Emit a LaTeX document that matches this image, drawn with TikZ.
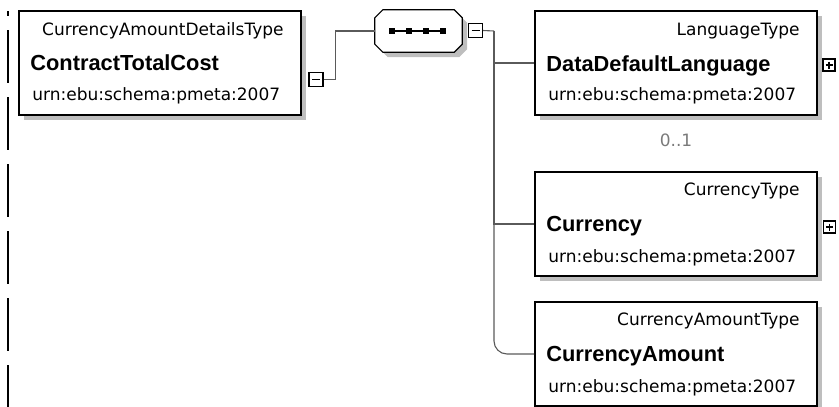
\documentclass[tikz,border=0pt]{standalone}
\usepackage{fontspec}
\setmainfont{DejaVu Sans}
\newfontfamily\namefont{Liberation Sans}
\usepackage{tikz}
\usepackage{xcolor}
\usetikzlibrary{calc,positioning,shadows}
\definecolor{XS_Line}{HTML}{5A5A5A}
\definecolor{XS_Shadow}{HTML}{BEBEBE}
\definecolor{XS_Occurs}{HTML}{7A7A7A}

\tikzset{
  elem/.style={draw=black, line width=1.6pt, fill=white, rectangle,
    minimum width=282pt, minimum height=104pt, inner sep=0pt,
    drop shadow={shadow xshift=5pt, shadow yshift=-5pt, fill=XS_Shadow, opacity=1}},
  toggle/.style={draw=black, line width=1.1pt, fill=white, rectangle,
    minimum size=14pt, inner sep=0pt},
  conn/.style={draw=XS_Line, line width=1.1pt},
  typetxt/.style={inner sep=0pt, font=\fontsize{17}{20}\selectfont},
  nametxt/.style={inner sep=0pt, font=\namefont\bfseries\fontsize{21.8}{24}\selectfont},
  urntxt/.style={inner sep=0pt, font=\fontsize{17}{20}\selectfont},
}

\begin{document}
\begin{tikzpicture}[x=1pt, y=-1pt]
    \useasboundingbox (0,0) rectangle (839,407);

    % Dashed marker on the left
    \draw[line width=2pt, dash pattern=on 53pt off 14pt, dash phase=48pt] (8,11) -- (8,407);

    % Parent element
    \node[elem] (ctc) at (160,63) {};
    \node[typetxt, anchor=base east] (ctc-type) at ($(ctc.north east)+(-18,25)$) {CurrencyAmountDetailsType};
    \node[nametxt, anchor=base west] (ctc-name) at ($(ctc.north west)+(12,60)$) {ContractTotalCost};
    \node[urntxt, anchor=base west] (ctc-urn) at ($(ctc.north west)+(14,90)$) {urn:ebu:schema:pmeta:2007};
    \node[toggle] (ctc-m) at (316,79.5) {};
    \draw[line width=1.3pt] ($(ctc-m.center)+(-4,0)$) -- ($(ctc-m.center)+(4,0)$);

    % Sequence compositor
    \node[minimum width=87pt, minimum height=42pt, inner sep=0pt] (seq) at (418.5,31) {};
    \draw[line width=1.2pt, fill=white,
      drop shadow={shadow xshift=5pt, shadow yshift=-5pt, fill=XS_Shadow, opacity=1}]
      ($(seq.north west)+(8,0)$) -- ($(seq.north east)+(-8,0)$) -- ($(seq.north east)+(0,8)$)
      -- ($(seq.south east)+(0,-8)$) -- ($(seq.south east)+(-8,0)$) -- ($(seq.south west)+(8,0)$)
      -- ($(seq.south west)+(0,-8)$) -- ($(seq.north west)+(0,8)$) -- cycle;
    \draw[line width=1.6pt] (392,31) -- (443,31);
    \foreach \dx in {392,409,426,443}
        \fill (\dx,31) +(-3.3,-3.3) rectangle +(3.3,3.3);
    \node[toggle] (seq-m) at (475.5,30.5) {};
    \draw[line width=1.3pt] ($(seq-m.center)+(-4,0)$) -- ($(seq-m.center)+(4,0)$);

    % Child elements
    \node[elem] (ddl) at (676,63) {};
    \node[typetxt, anchor=base east] (ddl-type) at ($(ddl.north east)+(-18,25)$) {LanguageType};
    \node[nametxt, anchor=base west] (ddl-name) at ($(ddl.north west)+(12,61)$) {DataDefaultLanguage};
    \node[urntxt, anchor=base west] (ddl-urn) at ($(ddl.north west)+(14,90)$) {urn:ebu:schema:pmeta:2007};
    \node[toggle, minimum size=12pt] (ddl-p) at (829,65) {};
    \draw[line width=1.3pt] ($(ddl-p.center)+(-3.5,0)$) -- ($(ddl-p.center)+(3.5,0)$)
                            ($(ddl-p.center)+(0,-3.5)$) -- ($(ddl-p.center)+(0,3.5)$);
    \node[typetxt, text=XS_Occurs, below=17.5pt of ddl] (ddl-occ) {0..1};

    \node[elem] (cur) at (676,224) {};
    \node[typetxt, anchor=base east] (cur-type) at ($(cur.north east)+(-18,24)$) {CurrencyType};
    \node[nametxt, anchor=base west] (cur-name) at ($(cur.north west)+(12,60)$) {Currency};
    \node[urntxt, anchor=base west] (cur-urn) at ($(cur.north west)+(14,91)$) {urn:ebu:schema:pmeta:2007};
    \node[toggle, minimum size=12pt] (cur-p) at (829.5,227) {};
    \draw[line width=1.3pt] ($(cur-p.center)+(-3.5,0)$) -- ($(cur-p.center)+(3.5,0)$)
                            ($(cur-p.center)+(0,-3.5)$) -- ($(cur-p.center)+(0,3.5)$);

    \node[elem] (cam) at (676,354) {};
    \node[typetxt, anchor=base east] (cam-type) at ($(cam.north east)+(-18,24)$) {CurrencyAmountType};
    \node[nametxt, anchor=base west] (cam-name) at ($(cam.north west)+(12,60)$) {CurrencyAmount};
    \node[urntxt, anchor=base west] (cam-urn) at ($(cam.north west)+(14,91)$) {urn:ebu:schema:pmeta:2007};

    % Connectors
    \draw[conn] (ctc-m.east) -- ++(12,0) |- (seq.west);
    \coordinate (fork) at (494,31);
    \draw[conn] (seq-m.east) -- (fork);
    \draw[conn] (fork) |- (ddl.west);
    \draw[conn] (fork) |- (cur.west);
    \draw[conn, rounded corners=13pt] (fork) |- (cam.west);

\end{tikzpicture}
\end{document}
